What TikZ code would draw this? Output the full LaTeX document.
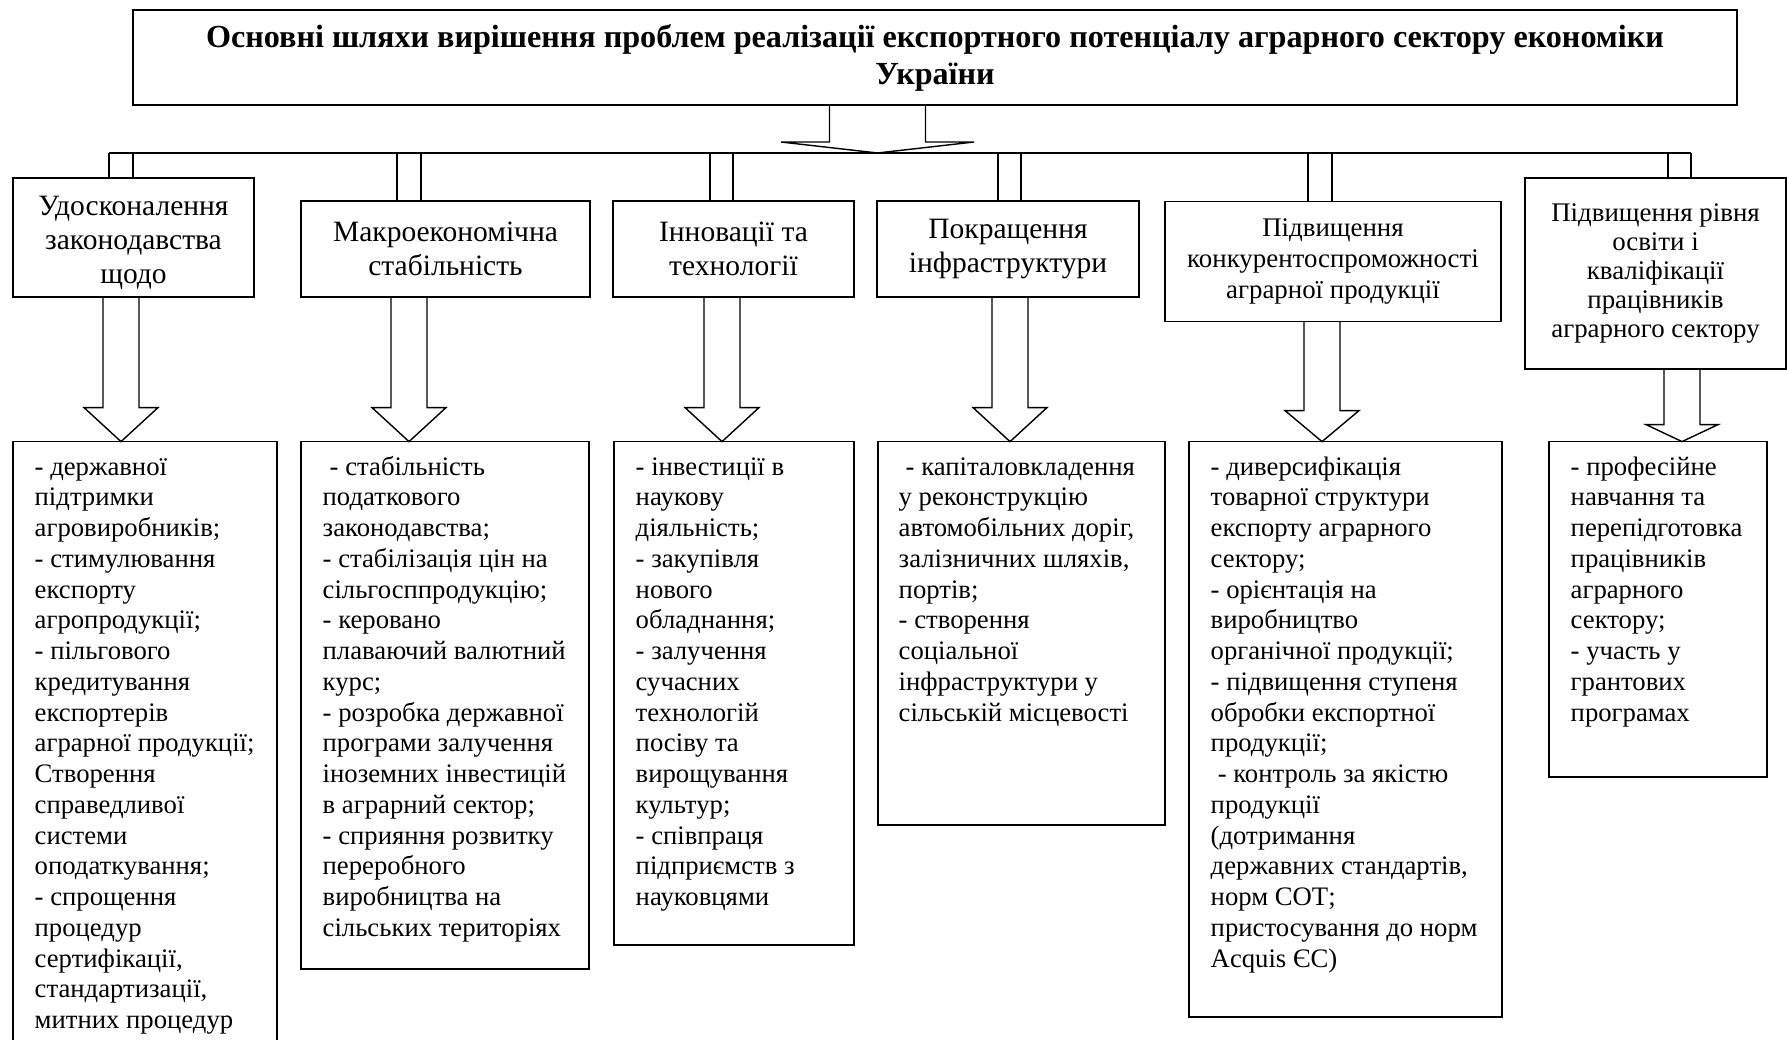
\documentclass[tikz,border=0pt]{standalone}
\usepackage{fontspec}
\setmainfont{Liberation Serif}
\usetikzlibrary{calc}

\begin{document}
\begin{tikzpicture}[
    x=0.02cm, y=-0.02cm, line width=0.8pt,
    waybox/.style 2 args={draw, outer sep=0pt, inner sep=0pt, align=center,
        minimum width=#1*0.02cm, minimum height=#2*0.02cm,
        font=\fontsize{16.8}{19.4}\selectfont},
    listtext/.style={anchor=north west, inner sep=0pt, align=left,
        font=\fontsize{15.2}{17.5}\selectfont}
]
\useasboundingbox (0,0) rectangle (1787,1040);

% top
\node[waybox={1604}{95}, font=\bfseries\fontsize{18.3}{21}\selectfont] (title) at (935,57.5)
    {Основні шляхи вирішення проблем реалізації експортного потенціалу аграрного сектору економіки\\України};

% ways
\node[waybox={241}{119}] (t1) at (133.5,237.5) {\rule{0pt}{17pt}Удосконалення\\законодавства\\щодо};
\node[waybox={289}{96}] (t2) at (445.5,249) {Макроекономічна\\стабільність};
\node[waybox={241}{96}] (t3) at (733.5,249) {Інновації та\\технології};
\node[waybox={262}{96}] (t4) at (1008,249) {Покращення\\інфраструктури};
\node[waybox={336}{120}, font=\fontsize{15.3}{17.5}\selectfont] (t5) at (1333,261.5)
    {Підвищення\\конкурентоспроможності\\аграрної продукції};
\node[waybox={261}{191}, font=\fontsize{15.3}{16.6}\selectfont] (t6) at (1655.5,273.5)
    {Підвищення рівня\\освіти і\\кваліфікації\\працівників\\аграрного сектору};

% measures
\node[waybox={264}{600.4}] (d1) at (145,741.8) {};
\node[waybox={288}{527.4}] (d2) at (445,705.3) {};
\node[waybox={240}{503.4}] (d3) at (734,693.3) {};
\node[waybox={287}{383.4}] (d4) at (1021.5,633.3) {};
\node[waybox={313}{575.4}] (d5) at (1345.5,729.3) {};
\node[waybox={218}{335.4}] (d6) at (1658,609.3) {};

\node[listtext] (l1) at ($(d1.north west)+(21,11.4)$) {\strut- державної\\підтримки\\агровиробників;\\- стимулювання\\експорту\\агропродукції;\\- пільгового\\кредитування\\експортерів\\аграрної продукції;\\Створення\\справедливої\\системи\\оподаткування;\\- спрощення\\процедур\\сертифікації,\\стандартизації,\\митних процедур};
\node[listtext] (l2) at ($(d2.north west)+(21,11.4)$) {\strut\hspace*{4pt}- стабільність\\податкового\\законодавства;\\- стабілізація цін на\\сільгосппродукцію;\\- керовано\\плаваючий валютний\\курс;\\- розробка державної\\програми залучення\\іноземних інвестицій\\в аграрний сектор;\\- сприяння розвитку\\переробного\\виробництва на\\сільських територіях};
\node[listtext] (l3) at ($(d3.north west)+(21,11.4)$) {\strut- інвестиції в\\наукову\\діяльність;\\- закупівля\\нового\\обладнання;\\- залучення\\сучасних\\технологій\\посіву та\\вирощування\\культур;\\- співпраця\\підприємств з\\науковцями};
\node[listtext] (l4) at ($(d4.north west)+(20,11.4)$) {\strut\hspace*{4pt}- капіталовкладення\\у реконструкцію\\автомобільних доріг,\\залізничних шляхів,\\портів;\\- створення\\соціальної\\інфраструктури у\\сільській місцевості};
\node[listtext] (l5) at ($(d5.north west)+(21,11.4)$) {\strut- диверсифікація\\товарної структури\\експорту аграрного\\сектору;\\- орієнтація на\\виробництво\\органічної продукції;\\- підвищення ступеня\\обробки експортної\\продукції;\\\hspace*{4pt}- контроль за якістю\\продукції\\(дотримання\\державних стандартів,\\норм СОТ;\\пристосування до норм\\Acquis ЄС)};
\node[listtext] (l6) at ($(d6.north west)+(21,11.4)$) {\strut- професійне\\навчання та\\перепідготовка\\працівників\\аграрного\\сектору;\\- участь у\\грантових\\програмах};

% bus and drops
\coordinate (p1) at (109,153);  \coordinate (q1) at (133,153);
\coordinate (p2) at (397,153);  \coordinate (q2) at (421,153);
\coordinate (p3) at (710,153);  \coordinate (q3) at (733,153);
\coordinate (p4) at (998,153);  \coordinate (q4) at (1021,153);
\coordinate (p5) at (1308,153); \coordinate (q5) at (1332,153);
\coordinate (p6) at (1668,153); \coordinate (q6) at (1691,153);
\draw (p1) -- (q6);
\draw (p1) -- (p1|-t1.north) (q1) -- (q1|-t1.north);
\draw (p2) -- (p2|-t2.north) (q2) -- (q2|-t2.north);
\draw (p3) -- (p3|-t3.north) (q3) -- (q3|-t3.north);
\draw (p4) -- (p4|-t4.north) (q4) -- (q4|-t4.north);
\draw (p5) -- (p5|-t5.north) (q5) -- (q5|-t5.north);
\draw (p6) -- (p6|-t6.north) (q6) -- (q6|-t6.north);

% block arrows
\coordinate (a0) at (877.5,0);
\draw ($(a0|-title.south)+(-48,0)$) |- ($(a0|-p1)+(-96.5,-11)$) -- (a0|-p1)
    -- ($(a0|-p1)+(96.5,-11)$) -| ($(a0|-title.south)+(48,0)$);

\coordinate (a1) at (121,0);
\coordinate (a2) at (409,0);
\coordinate (a3) at (722,0);
\coordinate (a4) at (1010,0);
\coordinate (a5) at (1322,0);
\coordinate (a6) at (1682,0);
\draw ($(a1|-t1.south)+(-18,0)$) |- ($(a1|-d1.north)+(-37,-34)$) -- (a1|-d1.north)
    -- ($(a1|-d1.north)+(37,-34)$) -| ($(a1|-t1.south)+(18,0)$);
\draw ($(a2|-t2.south)+(-18,0)$) |- ($(a2|-d2.north)+(-37,-34)$) -- (a2|-d2.north)
    -- ($(a2|-d2.north)+(37,-34)$) -| ($(a2|-t2.south)+(18,0)$);
\draw ($(a3|-t3.south)+(-18,0)$) |- ($(a3|-d3.north)+(-37,-34)$) -- (a3|-d3.north)
    -- ($(a3|-d3.north)+(37,-34)$) -| ($(a3|-t3.south)+(18,0)$);
\draw ($(a4|-t4.south)+(-18,0)$) |- ($(a4|-d4.north)+(-37,-34)$) -- (a4|-d4.north)
    -- ($(a4|-d4.north)+(37,-34)$) -| ($(a4|-t4.south)+(18,0)$);
\draw ($(a5|-t5.south)+(-18,0)$) |- ($(a5|-d5.north)+(-37,-31)$) -- (a5|-d5.north)
    -- ($(a5|-d5.north)+(37,-31)$) -| ($(a5|-t5.south)+(18,0)$);
\draw ($(a6|-t6.south)+(-18,0)$) |- ($(a6|-d6.north)+(-36,-17)$) -- (a6|-d6.north)
    -- ($(a6|-d6.north)+(36,-17)$) -| ($(a6|-t6.south)+(18,0)$);
\end{tikzpicture}
\end{document}
